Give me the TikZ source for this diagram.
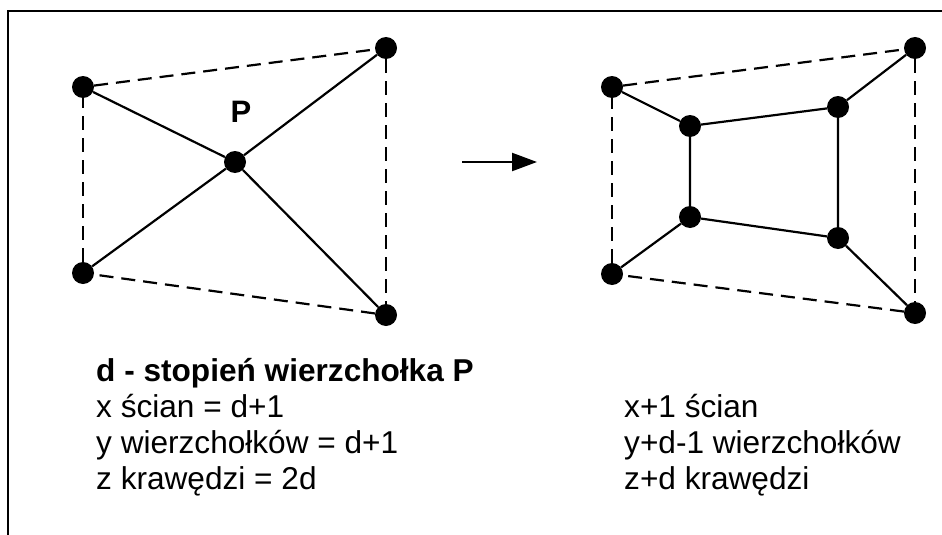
\documentclass[tikz,border=0pt]{standalone}
\usepackage{fontspec}
\setmainfont{Liberation Sans}
\usetikzlibrary{arrows.meta}

\begin{document}
\begin{tikzpicture}[x=1pt,y=-1pt,
  vertex/.style={circle,fill=black,inner sep=0pt,minimum size=22pt},
  edge/.style={line width=2.2pt},
  hidden/.style={line width=2.2pt,dash pattern=on 14pt off 8pt},
  caption/.style={anchor=base west,inner sep=0pt,font=\fontsize{31.6}{36}\selectfont},
  bigarrow/.style={line width=2.2pt,-{Triangle[length=25pt,width=18pt]}}
]
\useasboundingbox (0,0) rectangle (942,535);

% frame edges
\coordinate (fl) at (8,535);
\coordinate (fc) at (8,11);
\coordinate (fr) at (942,11);
\draw[line width=2.2pt] (fl) -- (fc) -- (fr);

% left graph: vertex P with its neighbours
\node[vertex] (a1) at (83,87) {};
\node[vertex] (a2) at (386,48) {};
\node[vertex] (a3) at (83,273) {};
\node[vertex] (a4) at (386,315) {};
\node[vertex] (p) at (235,162) {};
\node[font=\bfseries\fontsize{31}{36}\selectfont,inner sep=0pt] (plabel) at (241,112) {P};

\draw[edge] (a1) -- (p);
\draw[edge] (a2) -- (p);
\draw[edge] (a3) -- (p);
\draw[edge] (a4) -- (p);
\draw[hidden] (a1) -- (a2);
\draw[hidden] (a2) -- (a4);
\draw[hidden] (a4) -- (a3);
\draw[hidden] (a3) -- (a1);

% transformation arrow
\coordinate (arrs) at (462,162);
\coordinate (arre) at (537,162);
\draw[bigarrow] (arrs) -- (arre);

% right graph: P replaced by a face
\node[vertex] (b1) at (612,87) {};
\node[vertex] (b2) at (915,48) {};
\node[vertex] (b3) at (612,274) {};
\node[vertex] (b4) at (915,313) {};
\node[vertex] (c1) at (690,126) {};
\node[vertex] (c2) at (838,107) {};
\node[vertex] (c3) at (690,217) {};
\node[vertex] (c4) at (838,238) {};

\draw[hidden] (b1) -- (b2);
\draw[hidden] (b2) -- (b4);
\draw[hidden] (b4) -- (b3);
\draw[hidden] (b3) -- (b1);
\draw[edge] (b1) -- (c1);
\draw[edge] (b2) -- (c2);
\draw[edge] (b3) -- (c3);
\draw[edge] (b4) -- (c4);
\draw[edge] (c1) -- (c2) -- (c4) -- (c3) -- (c1);

% captions
\node[caption,font=\bfseries\fontsize{31.6}{36}\selectfont] (t0) at (96,381) {d - stopień wierzchołka P};
\node[caption] (t1) at (96,417) {x ścian = d+1};
\node[caption] (t2) at (96,453) {y wierzchołków = d+1};
\node[caption] (t3) at (96,489) {z krawędzi = 2d};

\node[caption] (r1) at (624,417) {x+1 ścian};
\node[caption] (r2) at (624,453) {y+d-1 wierzchołków};
\node[caption] (r3) at (624,489) {z+d krawędzi};
\end{tikzpicture}
\end{document}
